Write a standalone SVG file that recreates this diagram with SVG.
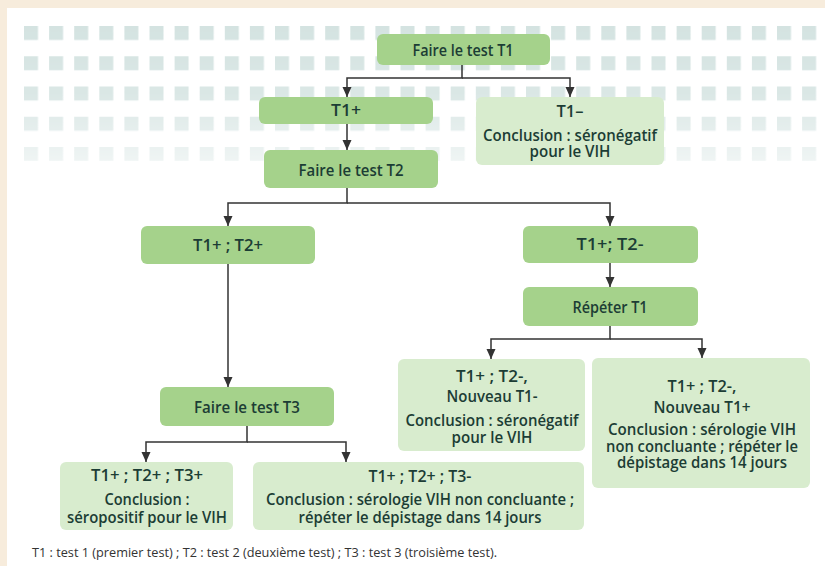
<svg xmlns="http://www.w3.org/2000/svg" width="825" height="566" viewBox="0 0 825 566">
<style>
.dark{fill:#a5d28b}
.light{fill:#d8ecce}
.t{font-family:"Open Sans","Liberation Sans",sans-serif;font-weight:600;font-size:16px;fill:#1c3d35;text-anchor:middle}
.c{fill:none;stroke:#333;stroke-width:1.5}
.foot{font-family:"Open Sans","Liberation Sans",sans-serif;font-size:13px;fill:#333}
</style>
<defs>
<marker id="ah" markerUnits="userSpaceOnUse" markerWidth="10" markerHeight="10" refX="10" refY="5" orient="auto">
<path d="M0,0.5 L10,5 L0,9.5 z" fill="#333"/>
</marker>
<pattern id="sq" patternUnits="userSpaceOnUse" x="24" y="26" width="25.1" height="30.25">
<rect width="14" height="14" fill="#d4e3e1"/>
</pattern>
<linearGradient id="fade" x1="0" y1="0" x2="0" y2="1">
<stop offset="0" stop-color="#fff" stop-opacity="1"/>
<stop offset="0.5" stop-color="#fff" stop-opacity="0.85"/>
<stop offset="1" stop-color="#fff" stop-opacity="0.35"/>
</linearGradient>
<mask id="m"><rect x="20" y="24" width="800" height="140" fill="url(#fade)"/></mask>
</defs>
<rect width="825" height="566" fill="#f7ecdc"/>
<rect x="7" y="8" width="818" height="558" fill="#fff"/>
<rect x="24" y="26" width="794" height="135" fill="url(#sq)" mask="url(#m)"/>

<g id="connectors">
<path class="c" d="M462,65 V78 H347 V97" marker-end="url(#ah)"/>
<path class="c" d="M462,78 H570 V97" marker-end="url(#ah)"/>
<path class="c" d="M347,124 V150" marker-end="url(#ah)"/>
<path class="c" d="M347,188 V203 H228 V226" marker-end="url(#ah)"/>
<path class="c" d="M347,203 H610 V226" marker-end="url(#ah)"/>
<path class="c" d="M228,264 V387" marker-end="url(#ah)"/>
<path class="c" d="M610,263 V287" marker-end="url(#ah)"/>
<path class="c" d="M610,326 V339 H491 V359" marker-end="url(#ah)"/>
<path class="c" d="M610,339 H702 V358" marker-end="url(#ah)"/>
<path class="c" d="M247,426 V442 H146 V462" marker-end="url(#ah)"/>
<path class="c" d="M247,442 H346 V462" marker-end="url(#ah)"/>
</g>

<g id="n_t1">
<rect class="dark" x="377" y="34" width="173" height="31" rx="6"/>
<text class="t" x="463" y="56" textLength="101" lengthAdjust="spacingAndGlyphs">Faire le test T1</text>
</g>
<g id="n_t1pos">
<rect class="dark" x="259" y="97" width="174" height="27" rx="6"/>
<text class="t" x="346" y="116" textLength="30" lengthAdjust="spacingAndGlyphs">T1+</text>
</g>
<g id="n_t1neg">
<rect class="light" x="476" y="97" width="188" height="68" rx="6"/>
<text class="t" x="570" y="117" textLength="27" lengthAdjust="spacingAndGlyphs">T1–</text>
<text class="t" x="570" y="141" textLength="174" lengthAdjust="spacingAndGlyphs">Conclusion : séronégatif</text>
<text class="t" x="570" y="157" textLength="81" lengthAdjust="spacingAndGlyphs">pour le VIH</text>
</g>
<g id="n_t2">
<rect class="dark" x="264" y="150" width="174" height="38" rx="6"/>
<text class="t" x="351" y="176" textLength="105" lengthAdjust="spacingAndGlyphs">Faire le test T2</text>
</g>
<g id="n_t1t2pos">
<rect class="dark" x="141" y="226" width="174" height="38" rx="6"/>
<text class="t" x="228" y="251" textLength="70" lengthAdjust="spacingAndGlyphs">T1+ ; T2+</text>
</g>
<g id="n_t1t2neg">
<rect class="dark" x="523" y="226" width="175" height="37" rx="6"/>
<text class="t" x="610" y="250" textLength="67" lengthAdjust="spacingAndGlyphs">T1+; T2-</text>
</g>
<g id="n_rep">
<rect class="dark" x="523" y="287" width="175" height="39" rx="6"/>
<text class="t" x="610" y="313" textLength="75" lengthAdjust="spacingAndGlyphs">Répéter T1</text>
</g>
<g id="n_newneg">
<rect class="light" x="398" y="359" width="187" height="92" rx="6"/>
<text class="t" x="492" y="382" textLength="72" lengthAdjust="spacingAndGlyphs">T1+ ; T2-,</text>
<text class="t" x="492" y="402" textLength="91" lengthAdjust="spacingAndGlyphs">Nouveau T1-</text>
<text class="t" x="492" y="426" textLength="173" lengthAdjust="spacingAndGlyphs">Conclusion : séronégatif</text>
<text class="t" x="492" y="443" textLength="81" lengthAdjust="spacingAndGlyphs">pour le VIH</text>
</g>
<g id="n_newpos">
<rect class="light" x="592" y="358" width="218" height="130" rx="6"/>
<text class="t" x="702" y="392" textLength="69" lengthAdjust="spacingAndGlyphs">T1+ ; T2-,</text>
<text class="t" x="702" y="413" textLength="97" lengthAdjust="spacingAndGlyphs">Nouveau T1+</text>
<text class="t" x="702" y="435" textLength="188" lengthAdjust="spacingAndGlyphs">Conclusion : sérologie VIH</text>
<text class="t" x="702" y="452" textLength="192" lengthAdjust="spacingAndGlyphs">non concluante ; répéter le</text>
<text class="t" x="702" y="468" textLength="170" lengthAdjust="spacingAndGlyphs">dépistage dans 14 jours</text>
</g>
<g id="n_t3">
<rect class="dark" x="160" y="387" width="174" height="39" rx="6"/>
<text class="t" x="247" y="413" textLength="106" lengthAdjust="spacingAndGlyphs">Faire le test T3</text>
</g>
<g id="n_t3pos">
<rect class="light" x="60" y="462" width="173" height="68" rx="6"/>
<text class="t" x="147" y="481" textLength="112" lengthAdjust="spacingAndGlyphs">T1+ ; T2+ ; T3+</text>
<text class="t" x="147" y="505" textLength="85" lengthAdjust="spacingAndGlyphs">Conclusion :</text>
<text class="t" x="147" y="523" textLength="160" lengthAdjust="spacingAndGlyphs">séropositif pour le VIH</text>
</g>
<g id="n_t3neg">
<rect class="light" x="253" y="462" width="331" height="68" rx="6"/>
<text class="t" x="420" y="482" textLength="103" lengthAdjust="spacingAndGlyphs">T1+ ; T2+ ; T3-</text>
<text class="t" x="420" y="505" textLength="308" lengthAdjust="spacingAndGlyphs">Conclusion : sérologie VIH non concluante ;</text>
<text class="t" x="420" y="523" textLength="243" lengthAdjust="spacingAndGlyphs">répéter le dépistage dans 14 jours</text>
</g>
<text class="foot" x="32" y="557" textLength="465" lengthAdjust="spacingAndGlyphs">T1 : test 1 (premier test) ; T2 : test 2 (deuxième test) ; T3 : test 3 (troisième test).</text>
</svg>
